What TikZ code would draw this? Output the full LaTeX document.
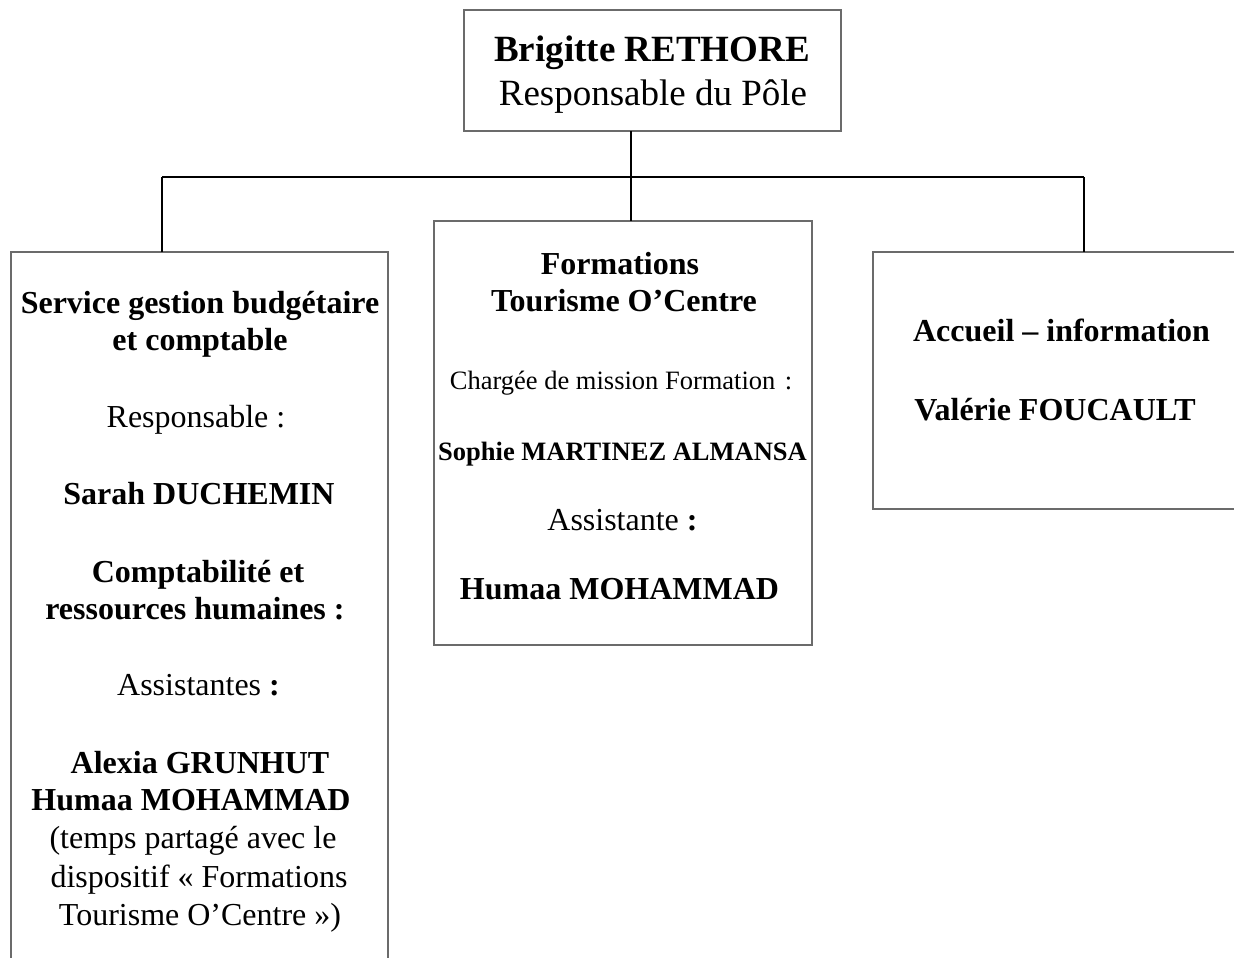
\documentclass[tikz,border=0pt]{standalone}
\usepackage{fontspec}
\setmainfont{Liberation Serif}
\begin{document}
\begin{tikzpicture}[x=1pt,y=-1pt,
  orgbox/.style={draw=black!58,line width=2.5pt,rectangle,inner sep=0pt,outer sep=0pt,fill=white},
  conn/.style={draw=black,line width=2pt},
  txt/.style={anchor=base,inner sep=0pt,outer sep=0pt},
  big/.style={txt,font=\fontsize{37}{41}\selectfont},
  norm/.style={txt,font=\fontsize{32}{38}\selectfont},
  small/.style={txt,font=\fontsize{26.5}{31}\selectfont}]
\useasboundingbox (0,0) rectangle (1234,958);
% boxes
\node[orgbox,minimum width=377pt,minimum height=121pt] (top) at (652.5,70.5) {};
\node[orgbox,minimum width=377pt,minimum height=760pt] (left) at (199.5,632) {};
\node[orgbox,minimum width=378pt,minimum height=424pt] (mid) at (623,433) {};
\node[orgbox,minimum width=377pt,minimum height=257pt] (right) at (1061.5,380.5) {};
% connectors
\coordinate (busL) at (162,177);
\coordinate (busM) at (631,177);
\coordinate (busR) at (1084,177);
\draw[conn] (busL) -- (busR);
\draw[conn] (busL) -- (left.north -| busL);
\draw[conn] (busR) -- (right.north -| busR);
\draw[conn] (top.south -| busM) -- (mid.north -| busM);
% top text
\node[big] (t1) at (652,62) {\bfseries Brigitte RETHORE};
\node[big] (t2) at (653,106) {Responsable du Pôle};
% left text
\node[norm] (l1) at (200,313) {\bfseries Service gestion budgétaire};
\node[norm] (l2) at (200,350) {\bfseries et comptable};
\node[norm] (l3) at (196,427) {Responsable :};
\node[norm] (l4) at (199,504) {\bfseries Sarah DUCHEMIN};
\node[norm] (l5) at (198,582) {\bfseries Comptabilité et};
\node[norm] (l6) at (195,619) {\bfseries ressources humaines :};
\node[norm] (l7) at (198.5,695.5) {Assistantes \textbf{:}};
\node[norm] (l8) at (200,773) {\bfseries Alexia GRUNHUT};
\node[norm] (l9) at (191,810) {\bfseries Humaa MOHAMMAD};
\node[norm] (l10) at (193,848) {(temps partagé avec le};
\node[norm] (l11) at (199,887) {dispositif «~Formations};
\node[norm] (l12) at (200,925) {Tourisme O’Centre~»)};
% middle text
\node[norm] (m1) at (620,274) {\bfseries Formations};
\node[norm] (m2) at (624,311) {\bfseries Tourisme O’Centre};
\node[small] (m3) at (621,389) {Chargée de mission Formation\hspace{0.35em}:};
\node[small] (m4) at (622.5,460) {\bfseries Sophie MARTINEZ ALMANSA};
\node[norm] (m5) at (622.5,530) {Assistante \textbf{:}};
\node[norm] (m6) at (619.5,599) {\bfseries Humaa MOHAMMAD};
% right text
\node[norm] (r1) at (1061.5,341) {\bfseries Accueil – information};
\node[norm] (r2) at (1055,420) {\bfseries Valérie FOUCAULT};
\end{tikzpicture}
\end{document}
